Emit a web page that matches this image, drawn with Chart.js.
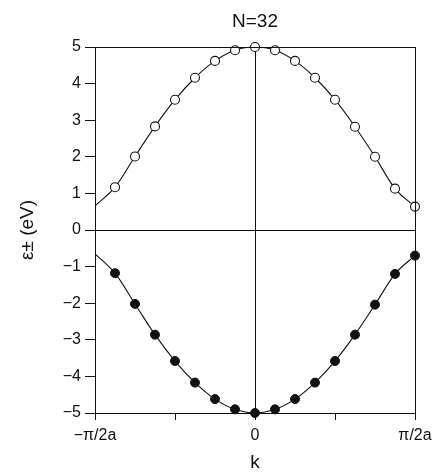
<!DOCTYPE html>
<html lang="en">
<head>
    <meta charset="UTF-8">
    <title>N=32</title>
    <style>
        html, body {
            margin: 0;
            padding: 0;
            background: #fff;
        }
        .chart-box {
            width: 438px;
            height: 474px;
        }
    </style>
</head>
<body>
<div class="chart-box">
    <canvas id="bandChart" width="438" height="474"></canvas>
</div>

<script src="https://cdn.jsdelivr.net/npm/chart.js"></script>
<script>
    // k in units of pi/a, from -pi/2a to pi/2a
    const kValues = [-0.5, -0.4375, -0.375, -0.3125, -0.25, -0.1875, -0.125, -0.0625, 0,
                     0.0625, 0.125, 0.1875, 0.25, 0.3125, 0.375, 0.4375, 0.5];

    // upper band e+ (eV)
    const upperBand = [0.66, 1.17, 2.01, 2.83, 3.56, 4.16, 4.62, 4.91, 5.0,
                       4.91, 4.62, 4.16, 3.56, 2.82, 2.00, 1.13, 0.64];

    // lower band e- (eV)
    const lowerBand = [-0.65, -1.18, -2.02, -2.86, -3.58, -4.17, -4.62, -4.90, -5.0,
                       -4.90, -4.62, -4.17, -3.58, -2.86, -2.04, -1.20, -0.70];

    // no marker on the first k point (band edge only)
    const markerSizes = kValues.map((k, i) => i === 0 ? 0 : 4.5);

    const xTickLabels = { '-0.5': '\u2212\u03c0/2a', '0': '0', '0.5': '\u03c0/2a' };

    const fontFamily = '"Liberation Sans", Arial, sans-serif';

    // frame around the plot area
    const frameBox = {
        id: 'frameBox',
        afterDatasetsDraw(chart) {
            const a = chart.chartArea;
            const c = chart.ctx;
            c.save();
            c.strokeStyle = '#111';
            c.lineWidth = 1;
            c.strokeRect(Math.round(a.left) + 0.5, Math.round(a.top) + 0.5,
                         Math.round(a.right - a.left), Math.round(a.bottom - a.top));
            c.restore();
        }
    };

    const zeroOnly = (ctx) => (ctx.tick && ctx.tick.value === 0) ? '#111' : 'rgba(0,0,0,0)';

    const ctx = document.getElementById('bandChart').getContext('2d');
    const bandChart = new Chart(ctx, {
        type: 'line',
        data: {
            datasets: [
                {
                    label: 'upper',
                    data: kValues.map((k, i) => ({ x: k, y: upperBand[i] })),
                    borderColor: '#111',
                    borderWidth: 1.1,
                    backgroundColor: '#fff',
                    pointBackgroundColor: '#fff',
                    pointBorderColor: '#111',
                    pointBorderWidth: 1.1,
                    pointRadius: markerSizes,
                    cubicInterpolationMode: 'monotone',
                    clip: false
                },
                {
                    label: 'lower',
                    data: kValues.map((k, i) => ({ x: k, y: lowerBand[i] })),
                    borderColor: '#111',
                    borderWidth: 1.1,
                    backgroundColor: '#111',
                    pointBackgroundColor: '#111',
                    pointBorderColor: '#111',
                    pointBorderWidth: 1,
                    pointRadius: markerSizes,
                    cubicInterpolationMode: 'monotone',
                    clip: false
                }
            ]
        },
        options: {
            responsive: false,
            animation: false,
            layout: {
                padding: { left: 0, right: 23, top: 0, bottom: 0 }
            },
            plugins: {
                legend: { display: false },
                tooltip: { enabled: false }
            },
            scales: {
                x: {
                    type: 'linear',
                    min: -0.5,
                    max: 0.5,
                    border: { display: false },
                    grid: {
                        color: zeroOnly,
                        tickColor: '#111',
                        tickLength: 7,
                        lineWidth: 1
                    },
                    ticks: {
                        stepSize: 0.25,
                        autoSkip: false,
                        maxRotation: 0,
                        padding: 6,
                        color: '#111',
                        font: { family: fontFamily, size: 16 },
                        callback: (v) => xTickLabels[String(v)] ?? ''
                    },
                    title: {
                        display: true,
                        text: 'k',
                        color: '#111',
                        font: { family: fontFamily, size: 19 },
                        padding: { top: 0, bottom: 0 }
                    },
                    afterFit: (scale) => { scale.height = 61; }
                },
                // top axis only carries the heading, centred over the plot
                xTop: {
                    type: 'linear',
                    position: 'top',
                    min: -0.5,
                    max: 0.5,
                    border: { display: false },
                    grid: { display: false },
                    ticks: { display: false },
                    title: {
                        display: true,
                        text: 'N=32',
                        color: '#111',
                        font: { family: fontFamily, size: 19 },
                        padding: { top: 10, bottom: 0 }
                    },
                    afterFit: (scale) => { scale.height = 47; }
                },
                y: {
                    min: -5,
                    max: 5,
                    border: { display: false },
                    grid: {
                        color: zeroOnly,
                        tickColor: '#111',
                        tickLength: 10,
                        lineWidth: 1
                    },
                    ticks: {
                        stepSize: 1,
                        padding: 4,
                        color: '#111',
                        font: { family: fontFamily, size: 16 },
                        callback: (v) => v < 0 ? '\u2212' + Math.abs(v) : String(v)
                    },
                    title: {
                        display: true,
                        text: '\u03b5\u00b1 (eV)',
                        color: '#111',
                        font: { family: fontFamily, size: 19 },
                        padding: { top: 16, bottom: 0 }
                    },
                    afterFit: (scale) => { scale.width = 95; }
                }
            }
        },
        plugins: [frameBox]
    });
</script>
</body>
</html>
